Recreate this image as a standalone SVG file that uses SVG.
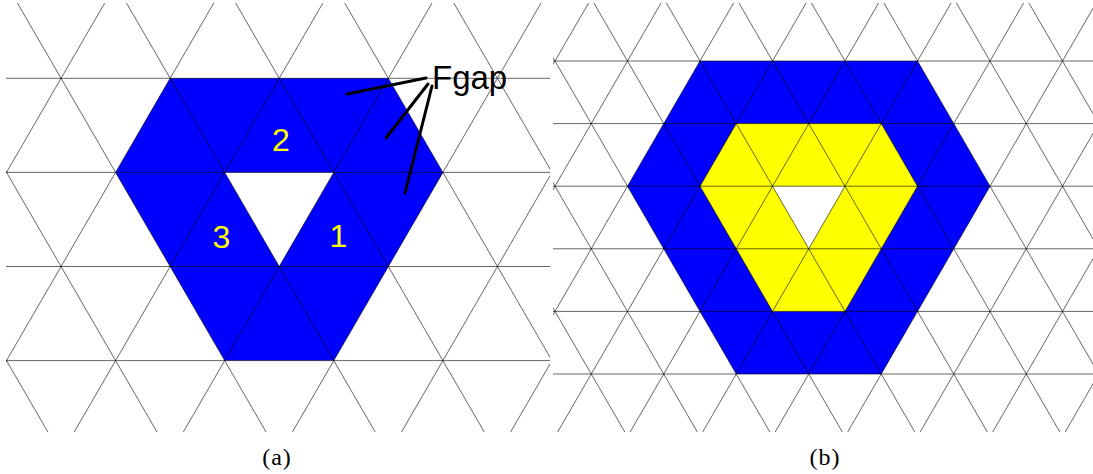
<svg xmlns="http://www.w3.org/2000/svg" xmlns:xlink="http://www.w3.org/1999/xlink" width="1093" height="474" viewBox="0 0 1093 474">
<style>
.grid{stroke:#000;stroke-opacity:0.6;stroke-width:1;fill:none}
.blue{fill:#0000FF}
.yellow{fill:#FFFF00}
.hole{fill:#FFFFFF}
.num{font-family:"Liberation Sans",Arial,sans-serif;font-size:32px;fill:#FFFF00;text-anchor:middle}
.lbl{font-family:"Liberation Sans",Arial,sans-serif;font-size:33px;fill:#000}
.cap{font-family:"Liberation Serif","Times New Roman",serif;font-size:24px;letter-spacing:1px;fill:#000;text-anchor:middle}
.lead{stroke:#000;stroke-width:3;stroke-linecap:round;fill:none}
</style>
<defs>
<clipPath id="clipA"><rect x="6" y="3" width="544" height="429"/></clipPath>
<clipPath id="clipB"><rect x="553" y="3" width="540" height="429"/></clipPath>
<path id="da1" d="M-163.65 454.7L109.1 -15.8"/>
<path id="da2" d="M-109.1 -15.8L163.65 454.7"/>
<path id="db1" d="M-145 436.6L145 -64.2"/>
<path id="db2" d="M-145 -64.2L145 436.6"/>
</defs>
<rect width="1093" height="474" fill="#fff"/>

<g id="panel-a">
<g id="a-regions">
<polygon class="blue" points="170.1,78.3 388.3,78.3 442.9,172.4 333.8,360.6 224.7,360.6 115.6,172.4"/>
<polygon class="hole" points="224.7,172.4 333.8,172.4 279.2,266.5"/>
</g>
<g id="a-grid" class="grid" clip-path="url(#clipA)">
<line x1="6" y1="78.3" x2="550" y2="78.3"/>
<line x1="6" y1="172.4" x2="550" y2="172.4"/>
<line x1="6" y1="266.5" x2="550" y2="266.5"/>
<line x1="6" y1="360.6" x2="550" y2="360.6"/>
<use xlink:href="#da1" href="#da1" x="-102.6"/>
<use xlink:href="#da1" href="#da1" x="6.5"/>
<use xlink:href="#da1" href="#da1" x="115.6"/>
<use xlink:href="#da1" href="#da1" x="224.7"/>
<use xlink:href="#da1" href="#da1" x="333.8"/>
<use xlink:href="#da1" href="#da1" x="442.9"/>
<use xlink:href="#da1" href="#da1" x="552"/>
<use xlink:href="#da1" href="#da1" x="661.1"/>
<use xlink:href="#da1" href="#da1" x="770.2"/>
<use xlink:href="#da2" href="#da2" x="-211.7"/>
<use xlink:href="#da2" href="#da2" x="-102.6"/>
<use xlink:href="#da2" href="#da2" x="6.5"/>
<use xlink:href="#da2" href="#da2" x="115.6"/>
<use xlink:href="#da2" href="#da2" x="224.7"/>
<use xlink:href="#da2" href="#da2" x="333.8"/>
<use xlink:href="#da2" href="#da2" x="442.9"/>
<use xlink:href="#da2" href="#da2" x="552"/>
<use xlink:href="#da2" href="#da2" x="661.1"/>
</g>
<g id="a-numbers">
<text class="num" x="281" y="150.5">2</text>
<text class="num" x="221.5" y="248">3</text>
<text class="num" x="338.5" y="247">1</text>
</g>
<g id="a-fgap">
<g id="connectors">
<line class="lead" x1="426" y1="78" x2="347" y2="94"/>
<line class="lead" x1="428" y1="84" x2="386" y2="138"/>
<line class="lead" x1="432" y1="86" x2="405" y2="193"/>
</g>
<text class="lbl" x="432" y="89">Fgap</text>
</g>
<text id="cap-a" class="cap" x="277" y="464.5">(a)</text>
</g>

<g id="panel-b">
<g id="b-regions">
<polygon class="blue" points="700,61 917.5,61 990,186.2 881.25,374 736.25,374 627.5,186.2"/>
<polygon class="yellow" points="736.25,123.6 881.25,123.6 917.5,186.2 845,311.4 772.5,311.4 700,186.2"/>
<polygon class="hole" points="772.5,186.2 845,186.2 808.75,248.8"/>
</g>
<g id="b-grid" class="grid" clip-path="url(#clipB)">
<line x1="553" y1="61" x2="1093" y2="61"/>
<line x1="553" y1="123.6" x2="1093" y2="123.6"/>
<line x1="553" y1="186.2" x2="1093" y2="186.2"/>
<line x1="553" y1="248.8" x2="1093" y2="248.8"/>
<line x1="553" y1="311.4" x2="1093" y2="311.4"/>
<line x1="553" y1="374" x2="1093" y2="374"/>
<use xlink:href="#db1" href="#db1" x="337.5"/>
<use xlink:href="#db1" href="#db1" x="410"/>
<use xlink:href="#db1" href="#db1" x="482.5"/>
<use xlink:href="#db1" href="#db1" x="555"/>
<use xlink:href="#db1" href="#db1" x="627.5"/>
<use xlink:href="#db1" href="#db1" x="700"/>
<use xlink:href="#db1" href="#db1" x="772.5"/>
<use xlink:href="#db1" href="#db1" x="845"/>
<use xlink:href="#db1" href="#db1" x="917.5"/>
<use xlink:href="#db1" href="#db1" x="990"/>
<use xlink:href="#db1" href="#db1" x="1062.5"/>
<use xlink:href="#db1" href="#db1" x="1135"/>
<use xlink:href="#db1" href="#db1" x="1207.5"/>
<use xlink:href="#db1" href="#db1" x="1280"/>
<use xlink:href="#db2" href="#db2" x="337.5"/>
<use xlink:href="#db2" href="#db2" x="410"/>
<use xlink:href="#db2" href="#db2" x="482.5"/>
<use xlink:href="#db2" href="#db2" x="555"/>
<use xlink:href="#db2" href="#db2" x="627.5"/>
<use xlink:href="#db2" href="#db2" x="700"/>
<use xlink:href="#db2" href="#db2" x="772.5"/>
<use xlink:href="#db2" href="#db2" x="845"/>
<use xlink:href="#db2" href="#db2" x="917.5"/>
<use xlink:href="#db2" href="#db2" x="990"/>
<use xlink:href="#db2" href="#db2" x="1062.5"/>
<use xlink:href="#db2" href="#db2" x="1135"/>
<use xlink:href="#db2" href="#db2" x="1207.5"/>
<use xlink:href="#db2" href="#db2" x="1280"/>
</g>
<text id="cap-b" class="cap" x="825" y="464.5">(b)</text>
</g>
</svg>
